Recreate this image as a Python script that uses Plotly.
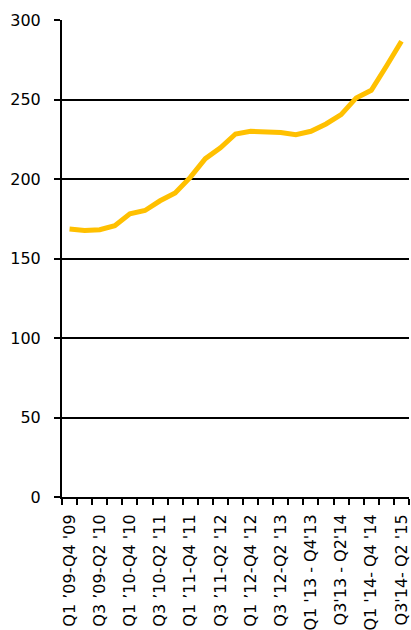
import plotly.graph_objects as go

# Rolling four-quarter periods; every second period carries a label
periods = [
    "Q1 '09-Q4 '09", "Q2 '09-Q1 '10", "Q3 '09-Q2 '10", "Q4 '09-Q3 '10",
    "Q1 '10-Q4 '10", "Q2 '10-Q1 '11", "Q3 '10-Q2 '11", "Q4 '10-Q3 '11",
    "Q1 '11-Q4 '11", "Q2 '11-Q1 '12", "Q3 '11-Q2 '12", "Q4 '11-Q3 '12",
    "Q1 '12-Q4 '12", "Q2 '12-Q1 '13", "Q3 '12-Q2 '13", "Q4 '12-Q3 '13",
    "Q1 '13 - Q4'13", "Q2'13 - Q1'14", "Q3'13 - Q2'14", "Q4'13 - Q3'14",
    "Q1 '14- Q4 '14", "Q2'14- Q1 '15", "Q3'14- Q2 '15",
]
values = [
    168.5, 167.6, 168.1, 170.6, 178.1, 180.2, 186.3, 191.2,
    201.0, 212.8, 219.6, 228.3, 230.0, 229.8, 229.3, 227.9,
    230.0, 234.6, 240.5, 251.0, 255.8, 270.9, 286.6,
]
tick_labels = [
    "Q1 \u201909-Q4 '09", "Q3 \u201909-Q2 '10", "Q1 \u201910-Q4 '10",
    "Q3 \u201910-Q2 '11", "Q1 \u201911-Q4 '11", "Q3 \u201911-Q2 '12",
    "Q1 \u201912-Q4 '12", "Q3 \u201912-Q2 '13", "Q1 '13 - Q4'13",
    "Q3'13 - Q2'14", "Q1 '14- Q4 '14", "Q3'14- Q2 '15",
]

x_idx = list(range(len(periods)))
label_pos = x_idx[::2]

fig = go.Figure(
    go.Scatter(
        x=x_idx,
        y=values,
        mode="lines",
        line=dict(color="#FFC000", width=5),
        hovertext=periods,
        hoverinfo="text+y",
    )
)

font_family = "DejaVu Sans, Liberation Sans, sans-serif"

fig.update_layout(
    width=411,
    height=630,
    margin=dict(l=62, r=2, t=20, b=133, autoexpand=False),
    paper_bgcolor="white",
    plot_bgcolor="white",
    showlegend=False,
    font=dict(family=font_family, color="black"),
)

fig.update_xaxes(
    range=[-0.5, len(periods) - 0.5],
    tickmode="array",
    tickvals=label_pos,
    ticktext=tick_labels,
    tickangle=-90,
    tickfont=dict(size=16, family=font_family, color="black"),
    ticks="outside",
    ticklen=6,
    tickcolor="rgba(0,0,0,0)",
    ticklabelstandoff=3,
    automargin=False,
    minor=dict(
        tickmode="linear",
        tick0=-0.5,
        dtick=1,
        ticks="outside",
        ticklen=6,
        tickwidth=1.5,
        tickcolor="black",
    ),
    showgrid=False,
    showline=True,
    linecolor="black",
    linewidth=2,
    zeroline=False,
    fixedrange=True,
)

fig.update_yaxes(
    range=[0, 300],
    tickmode="linear",
    tick0=0,
    dtick=50,
    tickfont=dict(size=16, family=font_family, color="black"),
    ticks="outside",
    ticklen=6,
    tickwidth=1.5,
    tickcolor="black",
    ticklabelstandoff=10,
    automargin=False,
    showgrid=True,
    gridcolor="black",
    gridwidth=1.5,
    showline=True,
    linecolor="black",
    linewidth=2,
    zeroline=False,
    fixedrange=True,
)

fig.write_html("out.html")
